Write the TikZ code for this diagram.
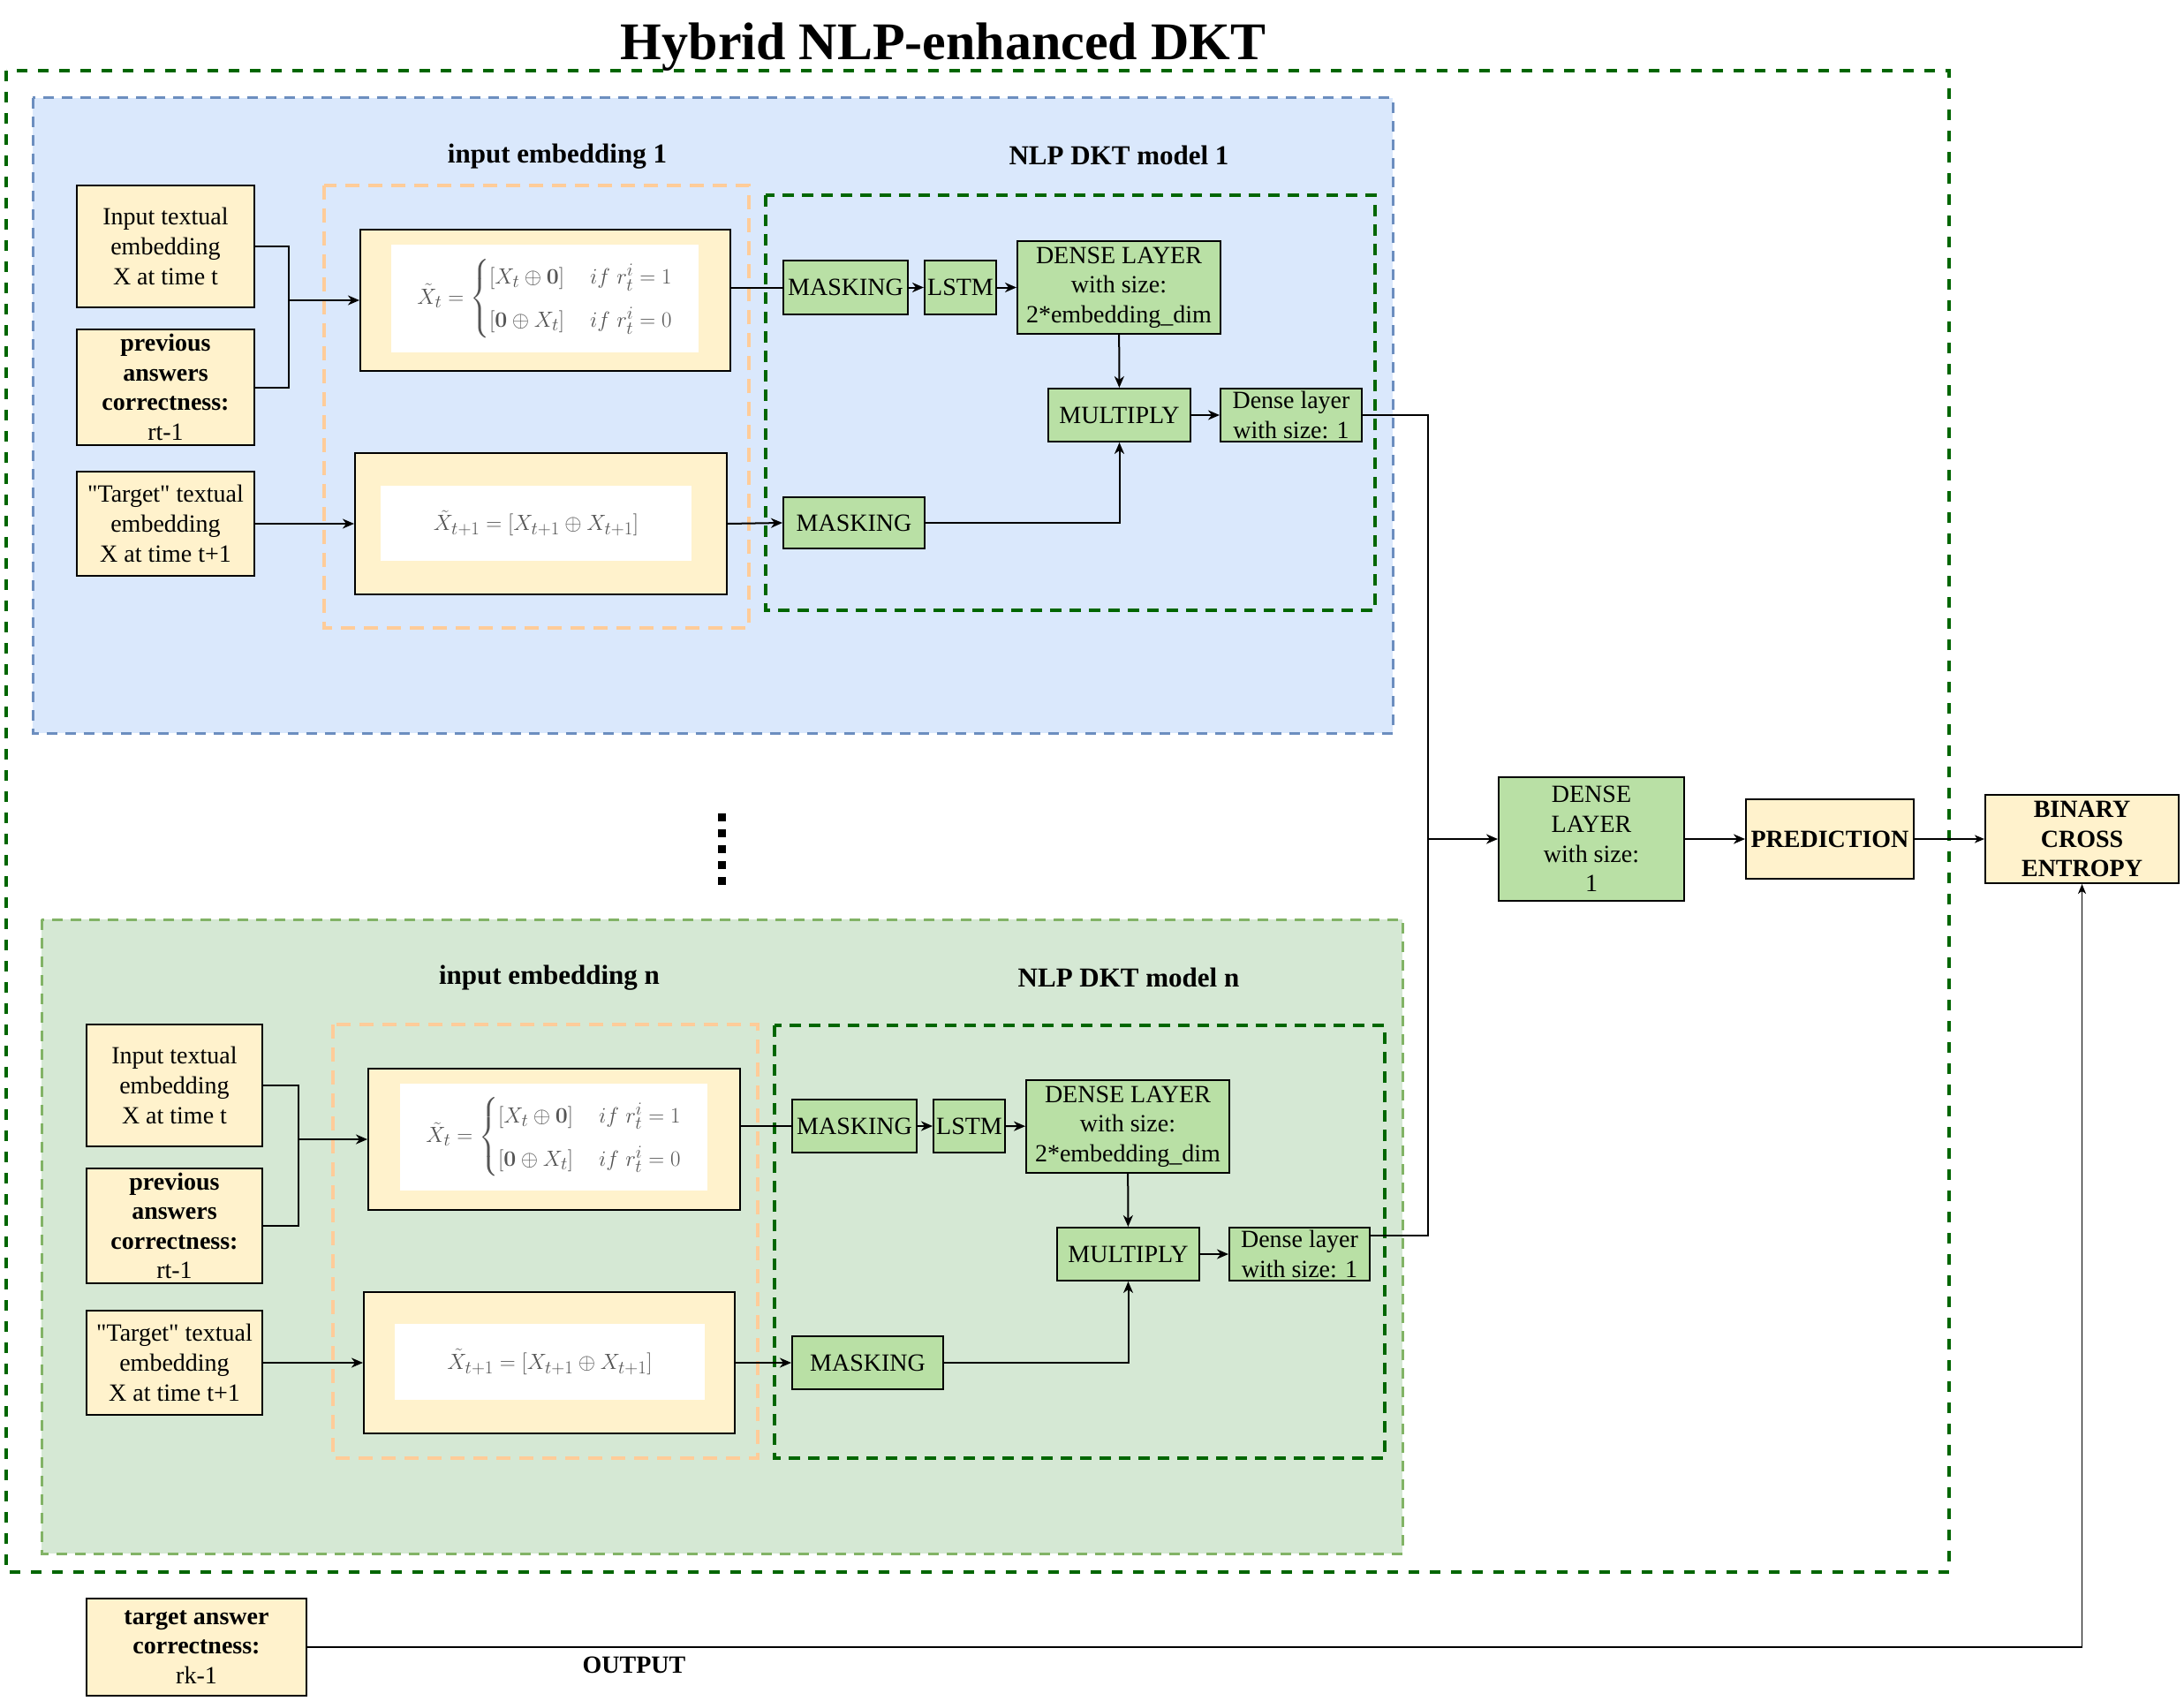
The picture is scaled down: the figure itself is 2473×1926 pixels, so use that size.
\documentclass[tikz,border=0pt]{standalone}
\usepackage{amsmath}
\usepackage[no-math]{fontspec}
\setmainfont{Liberation Serif}
\usetikzlibrary{arrows.meta,calc}
\definecolor{yfill}{HTML}{FFF2CC}
\definecolor{gfill}{HTML}{B9E0A5}
\definecolor{bluebg}{HTML}{DAE8FC}
\definecolor{blueln}{HTML}{6C8EBF}
\definecolor{greenbg}{HTML}{D5E8D4}
\definecolor{greenln}{HTML}{82B366}
\definecolor{dkgreen}{HTML}{006600}
\definecolor{orangeln}{HTML}{FFCC99}
\definecolor{mathgray}{HTML}{555555}
\newcommand\mybody{\fontsize{28}{33.6}\selectfont}
\newcommand\mylab{\fontsize{31}{37}\selectfont\bfseries}
\newcommand\caseformula{$\tilde{X}_t=\begin{cases}[X_t\oplus\mathbf{0}] & if\ r_t^i=1\\[8pt] [\mathbf{0}\oplus X_t] & if\ r_t^i=0\end{cases}$}
\newcommand\nextformula{$\tilde{X}_{t+1}=[X_{t+1}\oplus X_{t+1}]$}
\tikzset{
  ybox/.style={draw=black, fill=yfill, line width=2pt, inner sep=0pt, align=center, font=\mybody},
  gbox/.style={draw=black, fill=gfill, line width=2pt, inner sep=0pt, align=center, font=\mybody},
  wbox/.style={fill=white, draw=none, inner sep=0pt, text=mathgray},
  lab/.style={inner sep=0pt, font=\mylab},
  ln/.style={line width=2pt},
  arr/.style={line width=2pt, -{Stealth[length=13pt,width=11pt,inset=4pt]}},
  arrthin/.style={line width=1.5pt, -{Stealth[length=11pt,width=9pt,inset=3pt]}},
  outerframe/.style={draw=dkgreen, line width=4pt, dash pattern=on 12pt off 12pt},
  innerframe/.style={draw=dkgreen, line width=4pt, dash pattern=on 13pt off 9pt},
  orangeframe/.style={draw=orangeln, line width=3.5pt, dash pattern=on 16pt off 10pt},
}
\begin{document}
\begin{tikzpicture}[x=1pt,y=-1pt]
\useasboundingbox (0,0) rectangle (2473,1926);

% title
\node[inner sep=0pt, font=\fontsize{60}{72}\selectfont\bfseries] (title) at (1068,53) {Hybrid NLP-enhanced DKT};

% big frames
\draw[fill=bluebg, draw=blueln, line width=3pt, dash pattern=on 12pt off 9pt] (37,111) rectangle (1577,830);
\draw[fill=greenbg, draw=greenln, line width=3pt, dash pattern=on 12pt off 9pt] (47,1041) rectangle (1588,1759);
\draw[outerframe] (7,80) rectangle (2207,1780);

% ===== module 1 =====
\draw[orangeframe] (367,210) rectangle (848,711);
\draw[innerframe] (867,221) rectangle (1557,691);
\node[lab] (lab1a) at (631,177) {input embedding 1};
\node[lab] (lab1b) at (1267,176) {NLP DKT model 1};

\node[ybox, minimum width=201pt, minimum height=138pt] (in1) at (187.5,279) {Input textual\\embedding\\X at time t};
\node[ybox, minimum width=201pt, minimum height=131pt] (prev1) at (187.5,438.5) {\textbf{previous}\\\textbf{answers}\\\textbf{correctness:}\\rt-1};
\node[ybox, minimum width=201pt, minimum height=118pt] (tgt1) at (187.5,593) {\textquotedbl Target\textquotedbl\ textual\\embedding\\X at time t+1};

\node[ybox, minimum width=419pt, minimum height=160pt] (f1) at (617.5,340) {};
\node[wbox, minimum width=348pt, minimum height=122pt, font=\fontsize{29}{34}\selectfont] (f1w) at (617,338) {\caseformula};
\node[ybox, minimum width=421pt, minimum height=160pt] (f2) at (612.5,593) {};
\node[wbox, minimum width=352pt, minimum height=85pt, font=\fontsize{31}{36}\selectfont] (f2w) at (607,592.5) {\nextformula};

\node[gbox, minimum width=141pt, minimum height=61pt] (m1) at (957.5,325.5) {MASKING};
\node[gbox, minimum width=81pt, minimum height=61pt] (lstm1) at (1087.5,325.5) {LSTM};
\node[gbox, minimum width=230pt, minimum height=105pt] (d1) at (1267,325.5) {DENSE LAYER\\with size:\\2*embedding\_dim};
\node[gbox, minimum width=161pt, minimum height=60pt] (mul1) at (1267.5,470) {MULTIPLY};
\node[gbox, minimum width=160pt, minimum height=60pt] (ds1) at (1462,470) {Dense layer\\with size: 1};
\node[gbox, minimum width=160pt, minimum height=58pt] (mm1) at (967,592) {MASKING};

\coordinate (j1) at (327,340);
\draw[ln] (in1.east) -| (j1);
\draw[ln] (prev1.east) -| (j1);
\draw[arr] (j1) -- (f1.west);
\draw[arr] (tgt1.east) -- (f2.west);
\draw[ln] (f1.east |- m1.west) -- (m1.west);
\draw[arr] (f2.east) -- (mm1.west);
\draw[arr] (m1) -- (lstm1);
\draw[arr] (lstm1) -- (d1);
\draw[arr] (d1) -- (mul1);
\draw[arr] (mm1.east) -| (mul1.south);
\draw[arr] (mul1) -- (ds1);

% dots
\draw[line width=9pt, dash pattern=on 9pt off 9pt] (817.5,921) -- (817.5,1002);

% ===== module n =====
\draw[orangeframe] (377,1160) rectangle (858,1651);
\draw[innerframe] (877,1161) rectangle (1568,1651);
\node[lab] (labna) at (622,1107) {input embedding n};
\node[lab] (labnb) at (1278,1107) {NLP DKT model n};

\node[ybox, minimum width=199pt, minimum height=138pt] (inn) at (197.5,1229) {Input textual\\embedding\\X at time t};
\node[ybox, minimum width=199pt, minimum height=130pt] (prevn) at (197.5,1388) {\textbf{previous}\\\textbf{answers}\\\textbf{correctness:}\\rt-1};
\node[ybox, minimum width=199pt, minimum height=118pt] (tgtn) at (197.5,1543) {\textquotedbl Target\textquotedbl\ textual\\embedding\\X at time t+1};

\node[ybox, minimum width=421pt, minimum height=160pt] (fn1) at (627.5,1290) {};
\node[wbox, minimum width=348pt, minimum height=121pt, font=\fontsize{29}{34}\selectfont] (fn1w) at (627,1287.5) {\caseformula};
\node[ybox, minimum width=420pt, minimum height=160pt] (fn2) at (622,1543) {};
\node[wbox, minimum width=351pt, minimum height=86pt, font=\fontsize{31}{36}\selectfont] (fn2w) at (622.5,1542) {\nextformula};

\node[gbox, minimum width=141pt, minimum height=60pt] (mn) at (967.5,1275) {MASKING};
\node[gbox, minimum width=81pt, minimum height=60pt] (lstmn) at (1097.5,1275) {LSTM};
\node[gbox, minimum width=230pt, minimum height=105pt] (dn) at (1277,1275.5) {DENSE LAYER\\with size:\\2*embedding\_dim};
\node[gbox, minimum width=161pt, minimum height=60pt] (muln) at (1277.5,1420) {MULTIPLY};
\node[gbox, minimum width=159pt, minimum height=60pt] (dsn) at (1471.5,1420) {Dense layer\\with size: 1};
\node[gbox, minimum width=171pt, minimum height=60pt] (mmn) at (982.5,1543) {MASKING};

\coordinate (jn) at (338,1290);
\draw[ln] (inn.east) -| (jn);
\draw[ln] (prevn.east) -| (jn);
\draw[arr] (jn) -- (fn1.west);
\draw[arr] (tgtn.east) -- (fn2.west);
\draw[ln] (fn1.east |- mn.west) -- (mn.west);
\draw[arr] (fn2.east) -- (mmn.west);
\draw[arr] (mn) -- (lstmn);
\draw[arr] (lstmn) -- (dn);
\draw[arr] (dn) -- (muln);
\draw[arr] (mmn.east) -| (muln.south);
\draw[arr] (muln) -- (dsn);

% ===== right part =====
\node[gbox, minimum width=210pt, minimum height=140pt] (dbig) at (1802,950) {DENSE\\LAYER\\with size:\\1};
\node[ybox, minimum width=190pt, minimum height=90pt] (pred) at (2072,950) {\textbf{PREDICTION}};
\node[ybox, minimum width=219pt, minimum height=100pt] (bce) at (2357.5,950) {\textbf{BINARY}\\\textbf{CROSS}\\\textbf{ENTROPY}};
\node[ybox, minimum width=249pt, minimum height=110pt] (ta) at (222.5,1865) {\textbf{target answer}\\\textbf{correctness:}\\rk-1};
\node[inner sep=0pt, font=\mybody\bfseries] (outlab) at (718,1885) {OUTPUT};

\coordinate (bus) at (1617,950);
\draw[ln] (ds1.east) -| (bus);
\draw[ln] ([yshift=-10pt]dsn.north east) -| (bus);
\draw[arr] (bus) -- (dbig.west);
\draw[arr] (dbig) -- (pred);
\draw[arrthin] (pred) -- (bce);
\draw[arrthin] (ta.east) -- (ta.east -| bce.south) -- (bce.south);
\end{tikzpicture}
\end{document}
